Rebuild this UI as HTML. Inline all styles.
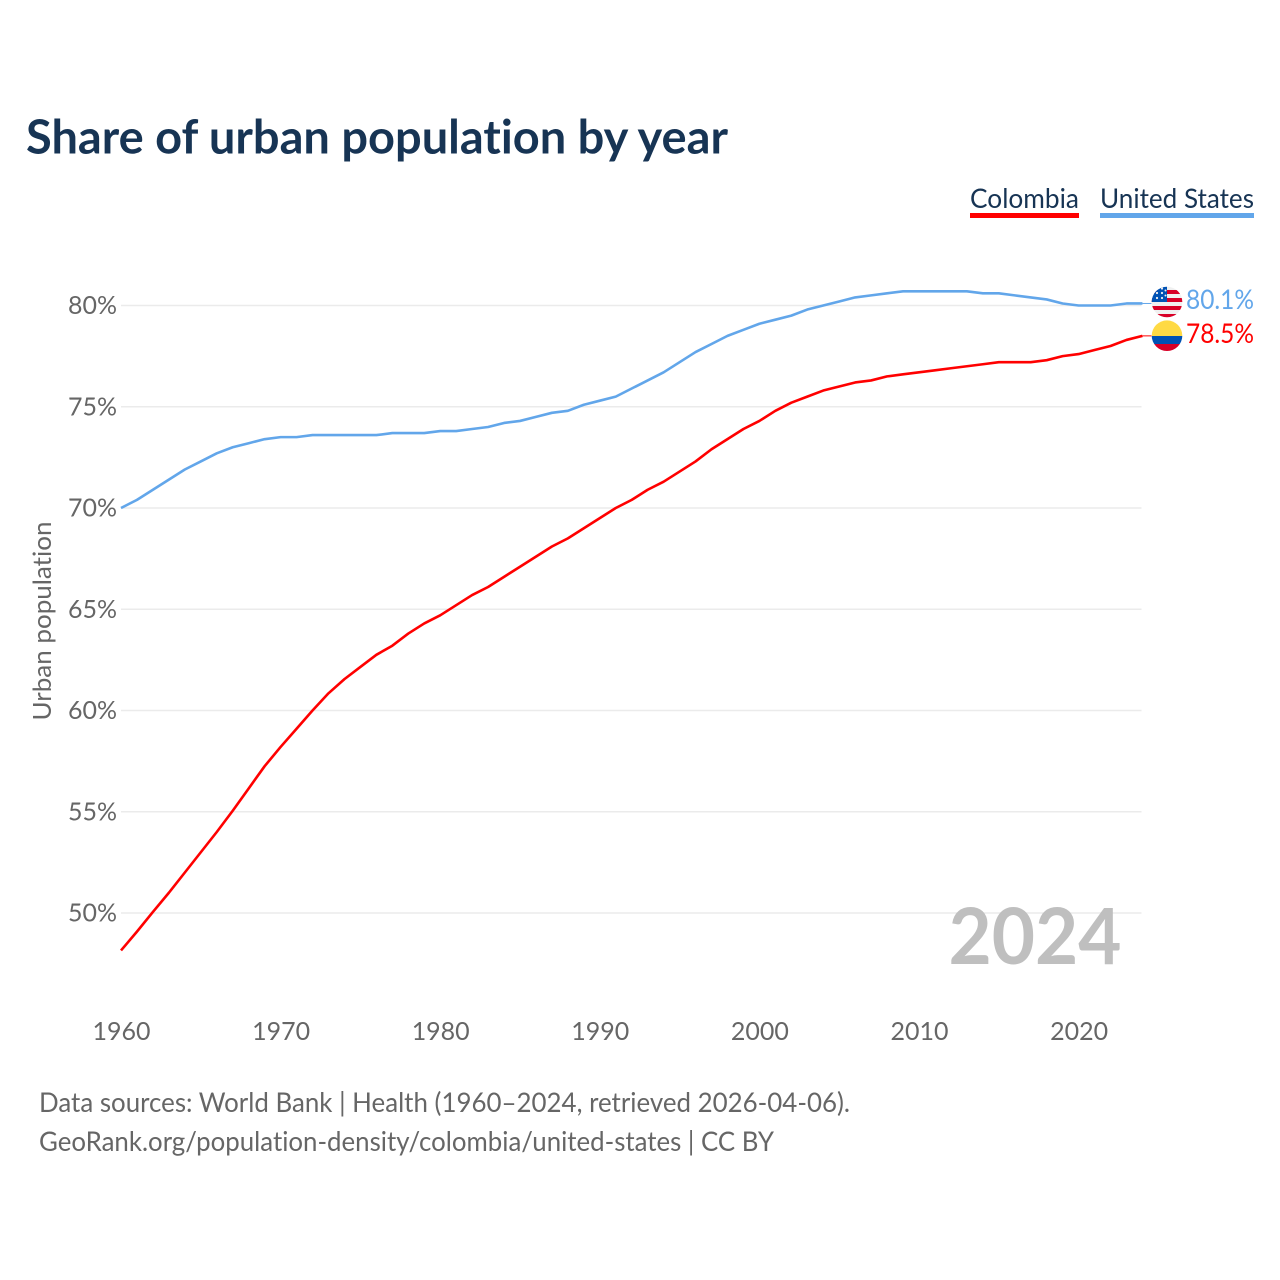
<!DOCTYPE html>
<html lang="en">
<head>
<meta charset="utf-8">
<title>Share of urban population by year</title>
<style>
html,body{margin:0;padding:0;background:#fff;width:1280px;height:1280px;overflow:hidden}
svg{display:block}
text{font-family:"Lato","Carlito","Liberation Sans",sans-serif;font-variant-ligatures:none;font-feature-settings:"liga" 0,"clig" 0}
</style>
</head>
<body>
<svg id="chart" xmlns="http://www.w3.org/2000/svg" width="1280" height="1280" viewBox="0 0 1280 1280">
  <defs>
    <clipPath id="clip-us"><circle cx="1167" cy="302" r="15.3"/></clipPath>
    <clipPath id="clip-co"><circle cx="1167" cy="335.7" r="15.3"/></clipPath>
  </defs>
  <text x="26" y="153.5" font-size="47" font-weight="700" fill="#173454" textLength="702" lengthAdjust="spacingAndGlyphs">Share of urban population by year</text>

  <g>
    <g>
      <text x="970" y="208" font-size="27.5" fill="#173454" textLength="109" lengthAdjust="spacingAndGlyphs">Colombia</text>
      <rect x="970" y="213" width="109" height="5" fill="#ff0000"/>
    </g>
    <g>
      <text x="1100" y="208" font-size="27.5" fill="#173454" textLength="154" lengthAdjust="spacingAndGlyphs">United States</text>
      <rect x="1100" y="213" width="154" height="5" fill="#62a6ea"/>
    </g>
  </g>

  <text transform="translate(51 621) rotate(-90)" text-anchor="middle" font-size="25" fill="#666666" textLength="199" lengthAdjust="spacingAndGlyphs">Urban population</text>

  <g id="grid"></g>
  <g id="y-ticks"></g>
  <g id="x-ticks"></g>

  <text x="948.5" y="964" font-size="78" font-weight="700" fill="#bfbfbf" textLength="173" lengthAdjust="spacingAndGlyphs">2024</text>

  <path id="line-us" fill="none" stroke="#62a6ea" stroke-width="2.6" stroke-linejoin="round"/>
  <path id="line-co" fill="none" stroke="#ff0000" stroke-width="2.6" stroke-linejoin="round"/>
  <line id="lead-us" stroke="#62a6ea" stroke-width="1"/>
  <line id="lead-co" stroke="#ff0000" stroke-width="1"/>

  <g clip-path="url(#clip-us)">
    <rect x="1150" y="285" width="34" height="34" fill="#f0f0f0"/>
    <rect x="1150" y="290" width="34" height="4" fill="#d80027"/>
    <rect x="1150" y="298" width="34" height="4" fill="#d80027"/>
    <rect x="1150" y="306" width="34" height="4" fill="#d80027"/>
    <rect x="1150" y="314" width="34" height="4" fill="#d80027"/>
    <rect x="1150" y="285" width="17" height="17" fill="#0052b4"/>
    <g fill="#f0f0f0">
      <circle cx="1157" cy="298" r="1.1"/><circle cx="1162" cy="298" r="1.1"/>
      <circle cx="1157" cy="293" r="1.1"/><circle cx="1162" cy="293" r="1.1"/>
      <circle cx="1162" cy="288.5" r="1.1"/><circle cx="1165.5" cy="295.5" r="1"/>
      <circle cx="1165.5" cy="290.5" r="1"/>
    </g>
  </g>
  <g clip-path="url(#clip-co)">
    <rect x="1150" y="320" width="34" height="16" fill="#ffda44"/>
    <rect x="1150" y="336" width="34" height="8" fill="#0052b4"/>
    <rect x="1150" y="344" width="34" height="8" fill="#d80027"/>
  </g>

  <text id="value-us" x="1186" y="309" font-size="27" fill="#62a6ea" textLength="68" lengthAdjust="spacingAndGlyphs"></text>
  <text id="value-co" x="1186" y="343" font-size="27" fill="#ff0000" textLength="68" lengthAdjust="spacingAndGlyphs"></text>

  <g>
    <text x="39" y="1112" font-size="27" fill="#666666" textLength="811" lengthAdjust="spacingAndGlyphs">Data sources: World Bank | Health (1960–2024, retrieved 2026-04-06).</text>
    <text x="39" y="1151" font-size="27" fill="#666666" textLength="735" lengthAdjust="spacingAndGlyphs">GeoRank.org/population-density/colombia/united-states | CC BY</text>
  </g>
</svg>
<script>
const years = [1960,1961,1962,1963,1964,1965,1966,1967,1968,1969,1970,1971,1972,1973,1974,1975,1976,1977,1978,1979,1980,1981,1982,1983,1984,1985,1986,1987,1988,1989,1990,1991,1992,1993,1994,1995,1996,1997,1998,1999,2000,2001,2002,2003,2004,2005,2006,2007,2008,2009,2010,2011,2012,2013,2014,2015,2016,2017,2018,2019,2020,2021,2022,2023,2024];
const colombia = [48.15,49.08,50.05,51.0,52.0,53.0,54.0,55.05,56.15,57.25,58.2,59.1,60.0,60.85,61.55,62.15,62.75,63.2,63.8,64.3,64.7,65.2,65.7,66.1,66.6,67.1,67.6,68.1,68.5,69.0,69.5,70.0,70.4,70.9,71.3,71.8,72.3,72.9,73.4,73.9,74.3,74.8,75.2,75.5,75.8,76.0,76.2,76.3,76.5,76.6,76.7,76.8,76.9,77.0,77.1,77.2,77.2,77.2,77.3,77.5,77.6,77.8,78.0,78.3,78.5];
const unitedStates = [70.0,70.4,70.9,71.4,71.9,72.3,72.7,73.0,73.2,73.4,73.5,73.5,73.6,73.6,73.6,73.6,73.6,73.7,73.7,73.7,73.8,73.8,73.9,74.0,74.2,74.3,74.5,74.7,74.8,75.1,75.3,75.5,75.9,76.3,76.7,77.2,77.7,78.1,78.5,78.8,79.1,79.3,79.5,79.8,80.0,80.2,80.4,80.5,80.6,80.7,80.7,80.7,80.7,80.7,80.6,80.6,80.5,80.4,80.3,80.1,80.0,80.0,80.0,80.1,80.1];
const yTickValues = [50,55,60,65,70,75,80];
const yTickLabels = ["50%","55%","60%","65%","70%","75%","80%"];
const xTickValues = [1960,1970,1980,1990,2000,2010,2020];
const xTickLabels = ["1960","1970","1980","1990","2000","2010","2020"];

const SVG_NS = "http://www.w3.org/2000/svg";
function xScale(year){ return 121 + (year - 1960) * 15.96; }
function yScale(pct){ return 913 - (pct - 50) * 20.25; }
function linePath(values){
  return values.map(function(v,i){
    return (i ? "L" : "M") + xScale(years[i]).toFixed(2) + " " + yScale(v).toFixed(2);
  }).join("");
}
const gridGroup = document.getElementById("grid");
const yGroup = document.getElementById("y-ticks");
const xGroup = document.getElementById("x-ticks");

yTickValues.forEach(function(v,i){
  const line = document.createElementNS(SVG_NS,"line");
  
  
  line.setAttribute("x1", 121);
  line.setAttribute("x2", 1141.5);
  line.setAttribute("y1", yScale(v));
  line.setAttribute("y2", yScale(v));
  line.setAttribute("stroke", "#ebebeb");
  line.setAttribute("stroke-width", "1.5");
  gridGroup.appendChild(line);

  const label = document.createElementNS(SVG_NS,"text");
  
  
  label.setAttribute("x", 117);
  label.setAttribute("y", yScale(v) + 8.5);
  label.setAttribute("text-anchor", "end");
  label.setAttribute("font-size", "25.5");
  label.setAttribute("fill", "#666666");
  label.setAttribute("textLength", "49");
  label.setAttribute("lengthAdjust", "spacingAndGlyphs");
  label.textContent = yTickLabels[i];
  yGroup.appendChild(label);
});

xTickValues.forEach(function(v,i){
  const label = document.createElementNS(SVG_NS,"text");
  
  
  label.setAttribute("x", xScale(v) + 0.5);
  label.setAttribute("y", 1040);
  label.setAttribute("text-anchor", "middle");
  label.setAttribute("font-size", "25.5");
  label.setAttribute("fill", "#666666");
  label.setAttribute("textLength", "58");
  label.setAttribute("lengthAdjust", "spacingAndGlyphs");
  label.textContent = xTickLabels[i];
  xGroup.appendChild(label);
});

document.getElementById("line-co").setAttribute("d", linePath(colombia));
document.getElementById("line-us").setAttribute("d", linePath(unitedStates));

function setLeader(id, value){
  const el = document.getElementById(id);
  el.setAttribute("x1", xScale(years[years.length-1]));
  el.setAttribute("x2", xScale(years[years.length-1]) + 9);
  el.setAttribute("y1", yScale(value));
  el.setAttribute("y2", yScale(value));
}
setLeader("lead-us", unitedStates[unitedStates.length-1]);
setLeader("lead-co", colombia[colombia.length-1]);

document.getElementById("value-us").textContent = unitedStates[unitedStates.length-1].toFixed(1) + "%";
document.getElementById("value-co").textContent = colombia[colombia.length-1].toFixed(1) + "%";
</script>
</body>
</html>
